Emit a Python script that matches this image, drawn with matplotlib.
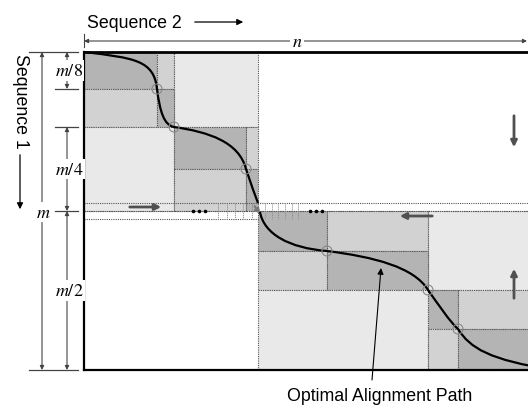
import matplotlib.pyplot as plt
from matplotlib.patches import Rectangle, Circle, PathPatch
from matplotlib.path import Path

plt.rcParams['mathtext.fontset'] = 'stix'
SANS = 'Liberation Sans'

# matrix size in cells (rows m, visible columns n)
m_rows = 318
n_cols = 444

# shades of the sub-blocks
shade = {'D': '#b4b4b4', 'M': '#d2d2d2', 'L': '#e9e9e9'}

# blocks: (col0, col1, row0, row1, shade)
blocks_top = [
    (0, 73, 0, 37, 'D'), (73, 90, 0, 37, 'M'), (90, 174, 0, 75, 'L'),
    (0, 73, 37, 75, 'M'), (73, 90, 37, 75, 'D'), (0, 90, 75, 159, 'L'),
    (90, 162, 75, 117, 'D'), (162, 174, 75, 117, 'M'),
    (90, 162, 117, 159, 'M'), (162, 174, 117, 159, 'D'),
]
blocks_bottom = [
    (174, 243, 159, 199, 'D'), (243, 344, 159, 199, 'M'), (344, 470, 159, 238, 'L'),
    (174, 243, 199, 238, 'M'), (243, 344, 199, 238, 'D'), (174, 344, 238, 318, 'L'),
    (344, 374, 238, 277, 'D'), (374, 470, 238, 277, 'M'),
    (344, 374, 277, 318, 'M'), (374, 470, 277, 318, 'D'),
]

# split points marked with circles
split_pts = [(73, 37), (90, 75), (162, 117), (243, 199), (344, 238), (374, 277)]

# optimal path, cubic bezier pieces (start, ctrl1, ctrl2, end)
path_top = [(0, 0), (50, 6), (70, 8), (73, 37),
            (76, 60), (80, 73), (90, 75),
            (125, 80), (155, 90), (162, 117),
            (167, 132), (171, 143), (174, 151)]
path_bottom = [(176, 160), (180, 182), (205, 196), (243, 199),
               (290, 205), (330, 215), (344, 238),
               (354, 252), (366, 270), (374, 277),
               (386, 296), (405, 308), (470, 318)]

# middle band
band_rows = (151, 159, 167)
fine_cols_left = [134, 143, 151, 159, 168]
fine_cols_right = [181, 188, 194, 201, 208, 214]
dots_left = [109, 115, 121]
dots_right = [226, 232, 238]

# dimension marks on the left
dim_rows = [0, 37, 75, 159, 318]
dim_labels = [(r'$m/8$', 0, 37), (r'$m/4$', 75, 159), (r'$m/2$', 159, 318)]

fig = plt.figure(figsize=(5.28, 4.10), dpi=100)
ax = fig.add_axes([0, 0, 1, 1])
ax.set_xlim(-84, n_cols)
ax.set_ylim(357, -53)
ax.axis('off')

for c0, c1, r0, r1, s in blocks_top + blocks_bottom:
    ax.add_patch(Rectangle((c0, r0), c1 - c0, r1 - r0, facecolor=shade[s],
                           edgecolor='#555555', lw=0.8, ls=(0, (1, 1))))

# band lines
ax.plot([0, 470], [band_rows[0]] * 2, color='#555555', lw=0.8, ls=(0, (1, 1)))
ax.plot([0, 470], [band_rows[1]] * 2, color='#555555', lw=0.8, ls=(0, (1, 1)))
ax.plot([0, 174], [band_rows[2]] * 2, color='#555555', lw=0.8, ls=(0, (1, 1)))
for c in fine_cols_left + fine_cols_right:
    ax.plot([c, c], [band_rows[0], band_rows[2]], color='#888888', lw=0.7, ls=(0, (1, 1)))
ax.scatter(dots_left + dots_right, [159] * 6, s=2.5, color='black', zorder=5)

# path
def bez(pts):
    codes = [Path.MOVETO] + [Path.CURVE4] * (len(pts) - 1)
    return PathPatch(Path(pts, codes), fill=False, lw=1.6, color='black', zorder=6)

ax.add_patch(bez(path_top))
ax.add_patch(bez(path_bottom))
ax.annotate('', xy=(178, 164), xytext=(169, 152),
            arrowprops=dict(arrowstyle='-|>', color='#777777', lw=1.5, mutation_scale=7))

for x, y in split_pts:
    ax.add_patch(Circle((x, y), 5, fill=False, ec='#888888', lw=0.8, zorder=7))

# border
ax.plot([0, 470], [0, 0], color='black', lw=2, solid_capstyle='butt')
ax.plot([0, 0], [0, m_rows], color='black', lw=1.6)
ax.plot([0, 470], [m_rows, m_rows], color='black', lw=1.6)

# direction arrows
arr = dict(arrowstyle='-|>', color='#505050', lw=2.0, mutation_scale=9)
ax.annotate('', xy=(80, 155), xytext=(43, 155), arrowprops=arr)
ax.annotate('', xy=(313, 164), xytext=(351, 164), arrowprops=arr)
ax.annotate('', xy=(430, 98), xytext=(430, 61), arrowprops=arr)
ax.annotate('', xy=(430, 214), xytext=(430, 249), arrowprops=arr)

# labels
ax.text(3, -30, 'Sequence 2', family=SANS, fontsize=12.8, va='center', ha='left')
ax.annotate('', xy=(162, -30), xytext=(108, -30),
            arrowprops=dict(arrowstyle='-|>', color='black', lw=0.9, mutation_scale=9))
ax.text(-64, 48, 'Sequence 1', family=SANS, fontsize=12.8, rotation=-90,
        va='center', ha='center')
ax.annotate('', xy=(-64, 160), xytext=(-64, 100),
            arrowprops=dict(arrowstyle='-|>', color='black', lw=0.9, mutation_scale=9))

dim = dict(arrowstyle='<|-|>', color='#444444', lw=0.8, mutation_scale=6,
           shrinkA=0, shrinkB=0)
ax.annotate('', xy=(n_cols - 1, -11), xytext=(0, -11), arrowprops=dim)
ax.plot([0, 0], [-18, -5], color='#444444', lw=0.8)
ax.text(213, -11, r'$n$', fontsize=13, ha='center', va='center',
        bbox=dict(facecolor='white', edgecolor='none', pad=1))

for r in dim_rows:
    x0 = -55 if r in (0, m_rows) else -29
    ax.plot([x0, -6], [r, r], color='#444444', lw=0.9)
ax.annotate('', xy=(-42, m_rows), xytext=(-42, 0), arrowprops=dim)
ax.text(-41, 160, r'$m$', fontsize=13, ha='center', va='center',
        bbox=dict(facecolor='white', edgecolor='none', pad=1))
for lab, r0, r1 in dim_labels:
    ax.annotate('', xy=(-17, r1), xytext=(-17, r0), arrowprops=dim)
    ax.text(-15, (r0 + r1) / 2, lab, fontsize=13, ha='center', va='center',
            bbox=dict(facecolor='white', edgecolor='none', pad=1))

ax.annotate('', xy=(297, 216), xytext=(288, 328),
            arrowprops=dict(arrowstyle='-|>', color='black', lw=0.8,
                            mutation_scale=9, shrinkA=0, shrinkB=0))
ax.text(295.5, 344, 'Optimal Alignment Path', family=SANS, fontsize=12.8,
        ha='center', va='center')

fig.savefig('out.png', dpi=100)
